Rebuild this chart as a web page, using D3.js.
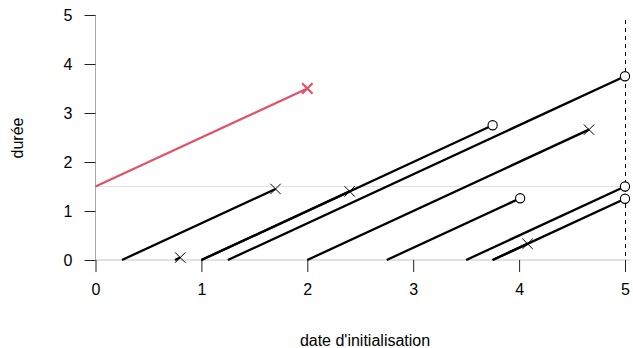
<!DOCTYPE html>
<html>
<head>
<meta charset="utf-8">
<script src="https://cdn.jsdelivr.net/npm/d3@7"></script>
<style>
body{margin:0;background:#fff;}
text{font-family:"Liberation Sans",Arial,sans-serif;fill:#000;}
</style>
</head>
<body>
<script>
// one record per line: start date, end date, status
var starts = [-1.5, 0.25, 0.75, 1.0, 1.0, 1.25, 2.0, 2.75, 3.5, 3.75, 3.75];
var ends   = [2.0, 1.7, 0.8, 2.4, 3.75, 5.0, 4.66, 4.01, 5.0, 4.08, 5.0];
var etats  = ["event","event","event","event","cens","cens","event","cens","cens","event","cens"];
var highlight = [true,false,false,false,false,false,false,false,false,false,false];

var xTicks = [0,1,2,3,4,5];
var yTicks = [0,1,2,3,4,5];
var refDuree = 1.5;   // horizontal reference line
var finEtude = 5;     // end of study (dashed)

var width = 633, height = 348;
var red = "#DF536B";

var x = d3.scaleLinear().domain([0,5]).range([95.5,625]);
var y = d3.scaleLinear().domain([0,5]).range([260,15]);

var svg = d3.select("body").append("svg").attr("width",width).attr("height",height);

var data = starts.map(function(s,i){
	var x0 = Math.max(s,0);
	return {x0:x0, y0:x0-s, x1:ends[i], y1:ends[i]-s, etat:etats[i], hl:highlight[i]};
});

// grey reference lines
svg.append("line")
	.attr("x1",x(0)).attr("x2",x(5.05))
	.attr("y1",y(refDuree)).attr("y2",y(refDuree))
	.attr("stroke","#e2e2e2").attr("stroke-width",1);
svg.append("line")
	.attr("x1",x(0)).attr("x2",x(5.05))
	.attr("y1",y(0)).attr("y2",y(0))
	.attr("stroke","#c4c4c4").attr("stroke-width",1);
svg.append("line")
	.attr("x1",x(0)).attr("x2",x(0))
	.attr("y1",y(0)).attr("y2",y(5))
	.attr("stroke","#a8a8a8").attr("stroke-width",1);

// dashed end-of-study line
svg.append("line")
	.attr("x1",x(finEtude)+0.5).attr("x2",x(finEtude)+0.5)
	.attr("y1",y(4.9)).attr("y2",y(-0.2))
	.attr("stroke","#000").attr("stroke-width",1)
	.attr("stroke-dasharray","4,4")
	.attr("shape-rendering","crispEdges");

// axes (ticks only)
var xAxis = d3.axisBottom(x).tickValues(xTicks).tickSize(12).tickPadding(6).tickFormat(d3.format("d"));
var gx = svg.append("g").attr("transform","translate(0,"+y(0)+")").call(xAxis);
gx.select(".domain").remove();
gx.selectAll("line").attr("stroke","#222");
gx.selectAll("text").attr("font-size",16).attr("dy","1.05em")
	.style("font-family","'Liberation Sans',Arial,sans-serif");

var yAxis = d3.axisLeft(y).tickValues(yTicks).tickSize(11).tickPadding(12).tickFormat(d3.format("d"));
var gy = svg.append("g").attr("transform","translate("+x(0)+",0)").call(yAxis);
gy.select(".domain").remove();
gy.selectAll("line").attr("stroke","#222");
gy.selectAll("text").attr("font-size",16)
	.style("font-family","'Liberation Sans',Arial,sans-serif");

// lines
svg.selectAll("line.seg")
	.data(data)
	.enter().append("line")
		.attr("class","seg")
		.attr("x1",function(d){ return x(d.x0); })
		.attr("y1",function(d){ return y(d.y0); })
		.attr("x2",function(d){ return x(d.x1); })
		.attr("y2",function(d){ return y(d.y1); })
		.attr("stroke",function(d){ return d.hl ? red : "#000"; })
		.attr("stroke-width",2.3);

// event markers (x)
var ev = data.filter(function(d){ return d.etat=="event"; });
var s = 5.2;
svg.selectAll("path.ev")
	.data(ev)
	.enter().append("path")
		.attr("class","ev")
		.attr("d",function(d){
			var cx = x(d.x1), cy = y(d.y1);
			return "M"+(cx-s)+","+(cy-s)+"L"+(cx+s)+","+(cy+s)+"M"+(cx-s)+","+(cy+s)+"L"+(cx+s)+","+(cy-s);
		})
		.attr("stroke",function(d){ return d.hl ? red : "#000"; })
		.attr("stroke-width",function(d){ return d.hl ? 2.2 : 1; })
		.attr("fill","none");

// censored markers (o)
var ce = data.filter(function(d){ return d.etat=="cens"; });
svg.selectAll("circle.ce")
	.data(ce)
	.enter().append("circle")
		.attr("class","ce")
		.attr("cx",function(d){ return x(d.x1); })
		.attr("cy",function(d){ return y(d.y1); })
		.attr("r",4.6)
		.attr("fill","#fff")
		.attr("stroke","#000")
		.attr("stroke-width",1.1);

// axis titles
svg.append("text")
	.attr("x",365).attr("y",346)
	.attr("text-anchor","middle")
	.attr("font-size",16)
	.text("date d'initialisation");

svg.append("text")
	.attr("transform","translate(23,138) rotate(-90)")
	.attr("text-anchor","middle")
	.attr("font-size",16)
	.text("durée");
</script>
</body>
</html>
